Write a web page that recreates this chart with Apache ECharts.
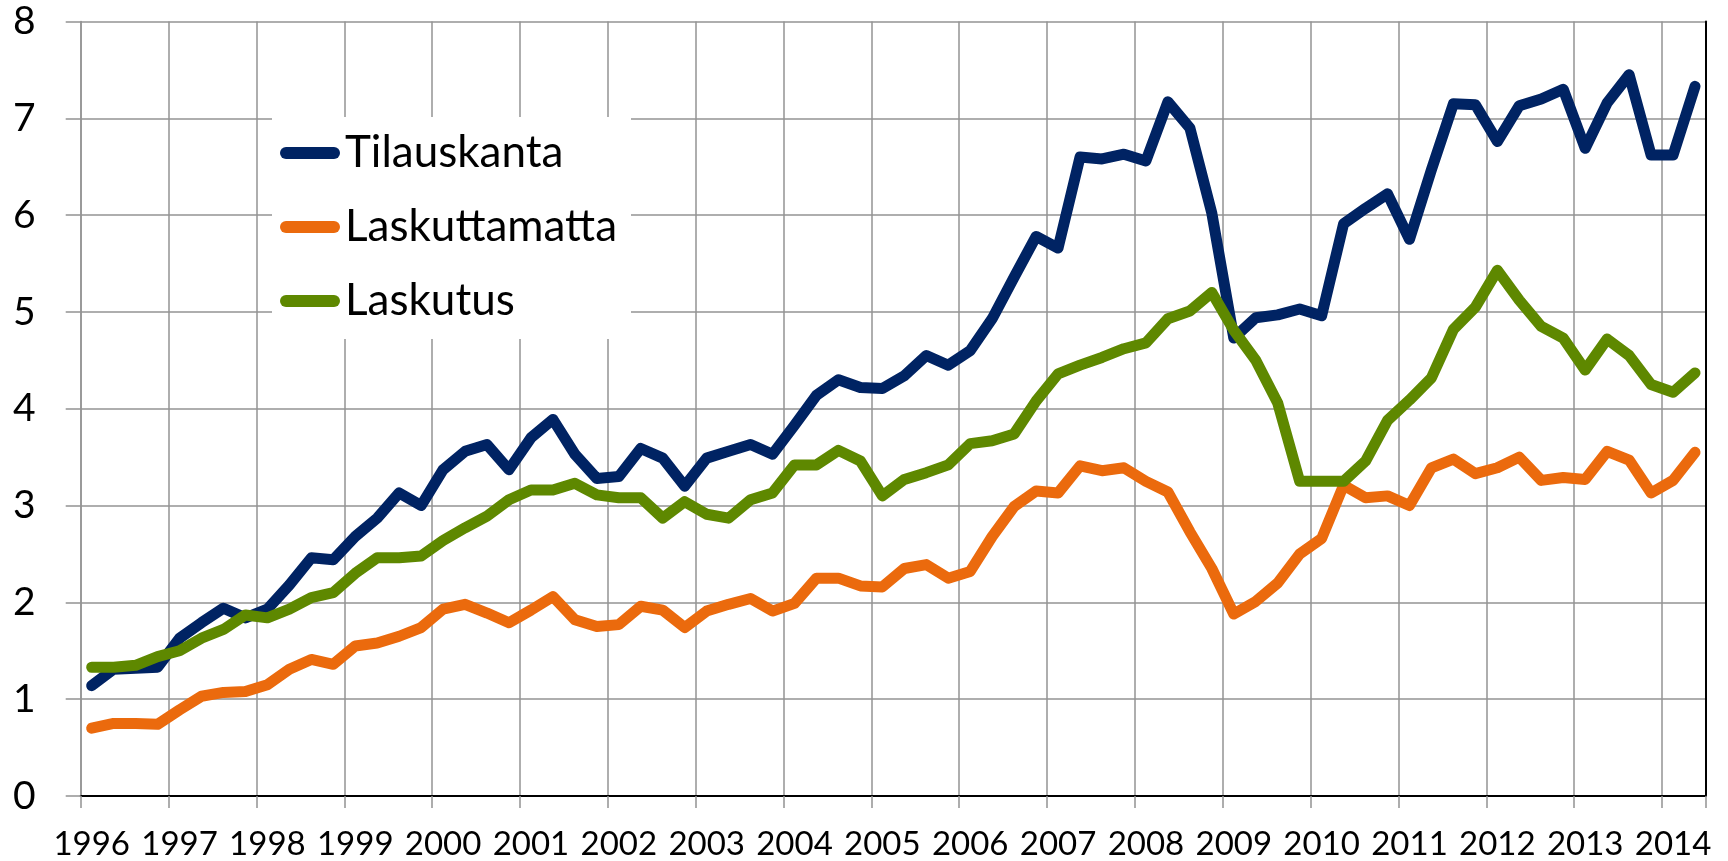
<!DOCTYPE html>
<html>
<head>
    <meta charset="utf-8">
    <title>Tilauskanta, laskuttamatta, laskutus</title>
    <script src="https://cdn.jsdelivr.net/npm/echarts@6/dist/echarts.min.js"></script>
    <style>
        html, body {
            margin: 0;
            padding: 0;
            background: #ffffff;
        }

        #main {
            width: 1728px;
            height: 861px;
        }
    </style>
</head>
<body>
<div id="main"></div>
<script>
    // neljännesvuodet 1996 Q1 - 2014 Q2
    var quarters = [
        '1996 Q1', '1996 Q2', '1996 Q3', '1996 Q4', '1997 Q1', '1997 Q2', '1997 Q3', '1997 Q4',
        '1998 Q1', '1998 Q2', '1998 Q3', '1998 Q4', '1999 Q1', '1999 Q2', '1999 Q3', '1999 Q4',
        '2000 Q1', '2000 Q2', '2000 Q3', '2000 Q4', '2001 Q1', '2001 Q2', '2001 Q3', '2001 Q4',
        '2002 Q1', '2002 Q2', '2002 Q3', '2002 Q4', '2003 Q1', '2003 Q2', '2003 Q3', '2003 Q4',
        '2004 Q1', '2004 Q2', '2004 Q3', '2004 Q4', '2005 Q1', '2005 Q2', '2005 Q3', '2005 Q4',
        '2006 Q1', '2006 Q2', '2006 Q3', '2006 Q4', '2007 Q1', '2007 Q2', '2007 Q3', '2007 Q4',
        '2008 Q1', '2008 Q2', '2008 Q3', '2008 Q4', '2009 Q1', '2009 Q2', '2009 Q3', '2009 Q4',
        '2010 Q1', '2010 Q2', '2010 Q3', '2010 Q4', '2011 Q1', '2011 Q2', '2011 Q3', '2011 Q4',
        '2012 Q1', '2012 Q2', '2012 Q3', '2012 Q4', '2013 Q1', '2013 Q2', '2013 Q3', '2013 Q4',
        '2014 Q1', '2014 Q2'
    ];

    var tilauskanta = [
        1.14, 1.31, 1.32, 1.33, 1.63, 1.79, 1.94, 1.84,
        1.93, 2.18, 2.46, 2.44, 2.68, 2.87, 3.13, 3.00,
        3.37, 3.56, 3.63, 3.37, 3.70, 3.89, 3.53, 3.28,
        3.30, 3.59, 3.49, 3.20, 3.49, 3.56, 3.63, 3.53,
        3.83, 4.14, 4.30, 4.22, 4.21, 4.34, 4.55, 4.45,
        4.60, 4.93, 5.36, 5.78, 5.66, 6.60, 6.58, 6.63,
        6.56, 7.17, 6.90, 6.02, 4.73, 4.94, 4.97, 5.03,
        4.96, 5.91, 6.07, 6.22, 5.75, 6.47, 7.15, 7.14,
        6.76, 7.13, 7.20, 7.30, 6.69, 7.16, 7.45, 6.62,
        6.62, 7.33
    ];

    var laskuttamatta = [
        0.70, 0.75, 0.75, 0.74, 0.89, 1.03, 1.07, 1.08,
        1.15, 1.31, 1.41, 1.36, 1.55, 1.58, 1.65, 1.74,
        1.93, 1.98, 1.89, 1.79, 1.92, 2.06, 1.82, 1.75,
        1.77, 1.96, 1.92, 1.74, 1.91, 1.98, 2.04, 1.91,
        1.99, 2.25, 2.25, 2.17, 2.16, 2.35, 2.39, 2.25,
        2.32, 2.68, 2.99, 3.15, 3.13, 3.41, 3.36, 3.39,
        3.25, 3.14, 2.73, 2.35, 1.88, 2.01, 2.20, 2.50,
        2.66, 3.21, 3.08, 3.10, 3.00, 3.39, 3.48, 3.33,
        3.39, 3.50, 3.26, 3.29, 3.27, 3.56, 3.47, 3.13,
        3.26, 3.55
    ];

    var laskutus = [
        1.33, 1.33, 1.35, 1.44, 1.50, 1.63, 1.72, 1.87,
        1.84, 1.93, 2.05, 2.10, 2.30, 2.46, 2.46, 2.48,
        2.64, 2.77, 2.89, 3.06, 3.16, 3.16, 3.23, 3.11,
        3.08, 3.08, 2.87, 3.04, 2.91, 2.87, 3.06, 3.13,
        3.42, 3.42, 3.57, 3.46, 3.10, 3.27, 3.34, 3.42,
        3.64, 3.67, 3.74, 4.08, 4.36, 4.45, 4.53, 4.62,
        4.68, 4.93, 5.01, 5.20, 4.81, 4.50, 4.06, 3.25,
        3.25, 3.25, 3.46, 3.88, 4.09, 4.32, 4.82, 5.05,
        5.43, 5.12, 4.85, 4.73, 4.40, 4.72, 4.55, 4.25,
        4.17, 4.37
    ];

    var seriesNames = ['Tilauskanta', 'Laskuttamatta', 'Laskutus'];
    var seriesColors = ['#002363', '#EB6A0D', '#5E8800'];

    var font = 'Lato, "Open Sans", sans-serif';
    var gridGray = '#939393';
    // pyöreäpäinen viiva legendaan
    var legendIcon = 'path://M6,0 L54,0 A6,6 0 0 1 54,12 L6,12 A6,6 0 0 1 6,0 Z';

    var chart = echarts.init(document.getElementById('main'), null, {renderer: 'canvas'});

    function lineSeries(name, data, color) {
        return {
            name: name,
            type: 'line',
            data: data,
            symbol: 'none',
            smooth: false,
            color: color,
            lineStyle: {
                width: 11,
                color: color,
                cap: 'round',
                join: 'round'
            },
            emphasis: {disabled: true}
        };
    }

    var option = {
        animation: false,
        backgroundColor: '#ffffff',
        grid: {
            left: 80.7,
            right: 22,
            top: 21.5,
            bottom: 64.3,
            containLabel: false
        },
        legend: {
            data: seriesNames,
            orient: 'vertical',
            left: 272,
            top: 117,
            icon: legendIcon,
            itemWidth: 60,
            itemHeight: 12,
            itemGap: 30,
            padding: [14, 14, 16, 8],
            backgroundColor: '#ffffff',
            textStyle: {
                fontFamily: font,
                fontSize: 44,
                color: '#000000'
            }
        },
        xAxis: [
            {
                type: 'category',
                data: quarters,
                boundaryGap: true,
                axisLine: {show: true, lineStyle: {color: gridGray, width: 1.5}},
                axisTick: {show: true, interval: 3, length: 12, lineStyle: {color: gridGray, width: 1.5}},
                axisLabel: {
                    interval: 3,
                    margin: 32,
                    fontFamily: font,
                    fontSize: 33,
                    color: '#000000',
                    formatter: function (v) {
                        return v.slice(0, 4);
                    }
                },
                splitLine: {show: true, interval: 3, lineStyle: {color: gridGray, width: 1.5}}
            },
            {
                // yläreunan musta viiva
                type: 'category',
                data: quarters,
                position: 'top',
                boundaryGap: true,
                axisLine: {show: true, lineStyle: {color: '#000000', width: 2}},
                axisTick: {show: false},
                axisLabel: {show: false},
                splitLine: {show: false}
            }
        ],
        yAxis: [
            {
                type: 'value',
                min: 0,
                max: 8,
                interval: 1,
                axisLine: {show: true, lineStyle: {color: gridGray, width: 1.5}},
                axisTick: {show: true, length: 15, lineStyle: {color: gridGray, width: 1.5}},
                axisLabel: {
                    margin: 45,
                    fontFamily: font,
                    fontSize: 39,
                    color: '#000000'
                },
                splitLine: {show: true, lineStyle: {color: gridGray, width: 1.5}}
            },
            {
                // oikean reunan musta viiva
                type: 'value',
                min: 0,
                max: 8,
                interval: 1,
                position: 'right',
                axisLine: {show: true, lineStyle: {color: '#000000', width: 2}},
                axisTick: {show: false},
                axisLabel: {show: false},
                splitLine: {show: false}
            }
        ],
        series: [
            lineSeries(seriesNames[0], tilauskanta, seriesColors[0]),
            lineSeries(seriesNames[1], laskuttamatta, seriesColors[1]),
            lineSeries(seriesNames[2], laskutus, seriesColors[2])
        ]
    };

    chart.setOption(option);

    window.onresize = function () {
        chart.resize();
    };
</script>
</body>
</html>
